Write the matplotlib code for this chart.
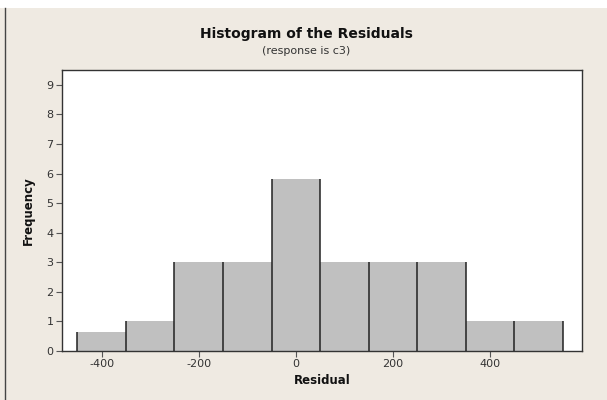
import numpy as np
import matplotlib
matplotlib.use("Agg")
import matplotlib.pyplot as plt
from matplotlib.patches import Rectangle
from matplotlib.lines import Line2D

plt.rcParams["axes.unicode_minus"] = False  # Minitab uses a plain hyphen

# bin midpoints and counts
BIN_CENTERS = [-400, -300, -200, -100, 0, 100, 200, 300, 400, 500]
FREQUENCIES = [0.65, 1, 3, 3, 5.8, 3, 3, 3, 1, 1]
BIN_WIDTH = 100
X_TICKS = [-400, -200, 0, 200, 400]
Y_TICKS = list(range(10))

BG = "#efeae2"
BAR = "#c0c0c0"
TXT = "#333333"

fig = plt.figure(figsize=(6.07, 4.00), dpi=100, facecolor=BG)
# white strip on top and the left frame line of the Minitab window
fig.patches.append(Rectangle((0, 0.98), 1, 0.02, transform=fig.transFigure,
                             facecolor="white", edgecolor="none", zorder=0))
fig.lines.append(Line2D([0.009, 0.009], [0, 0.98], transform=fig.transFigure,
                        color="#444444", linewidth=1.0))

ax = fig.add_axes([0.102, 0.1225, 0.857, 0.7025])
ax.set_facecolor("white")

centers = np.array(BIN_CENTERS, dtype=float)
freqs = np.array(FREQUENCIES, dtype=float)
ax.bar(centers, freqs, width=BIN_WIDTH, color=BAR, linewidth=0, zorder=2)

# dark separators on the bar sides (tops have no outline)
left_edges = centers - BIN_WIDTH / 2
edges = np.append(left_edges, centers[-1] + BIN_WIDTH / 2)
padded = np.concatenate([[0], freqs, [0]])
edge_heights = np.maximum(padded[:-1], padded[1:])
ax.vlines(edges, 0, edge_heights, color="#222222", linewidth=1.1, zorder=3)

ax.set_xlim(-482, 590)
ax.set_ylim(0, 9.5)
ax.set_xticks(X_TICKS)
ax.set_yticks(Y_TICKS)
ax.tick_params(axis="both", direction="out", length=4, width=0.8,
               labelsize=8, colors="#555555", labelcolor=TXT, pad=2)
for sp in ax.spines.values():
    sp.set_color("#333333")
    sp.set_linewidth(1.0)

ax.set_xlabel("Residual", fontsize=8.5, fontweight="bold", color="#111111", labelpad=3)
ax.set_ylabel("Frequency", fontsize=8.5, fontweight="bold", color="#111111", labelpad=8)

fig.text(0.505, 0.915, "Histogram of the Residuals", ha="center", va="center",
         fontsize=10, fontweight="bold", color="#111111")
fig.text(0.505, 0.873, "(response is c3)", ha="center", va="center",
         fontsize=8, color=TXT)

fig.savefig("out.png", dpi=100, facecolor=BG)
